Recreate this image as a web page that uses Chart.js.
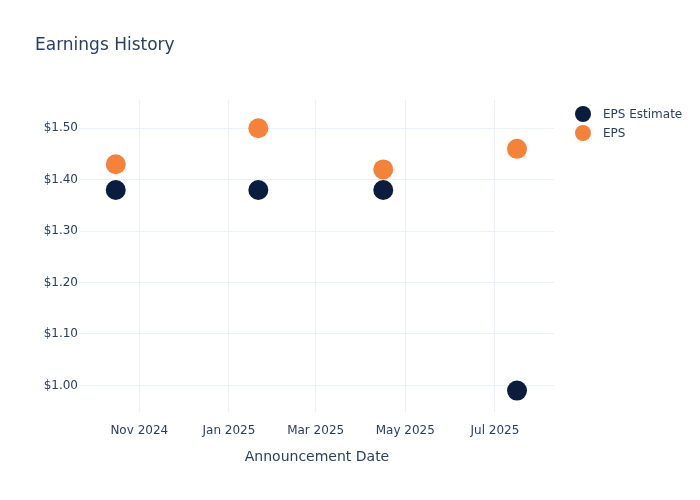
<!DOCTYPE html>
<html>
<head>
<meta charset="utf-8">
<script src="https://cdn.jsdelivr.net/npm/chart.js@4/dist/chart.umd.min.js"></script>
<style>
html,body{margin:0;padding:0;background:#fff;}
#wrap{width:700px;height:500px;position:relative;}
</style>
</head>
<body>
<div id="wrap"><canvas id="c" width="700" height="500"></canvas></div>
<script>
// ---- data ----
const announceDates = ["2024-10-16", "2025-01-21", "2025-04-16", "2025-07-16"];
const epsEstimate = [1.38, 1.38, 1.38, 0.99];
const epsActual = [1.43, 1.50, 1.42, 1.46];
const xTickDates = ["2024-11-01", "2025-01-01", "2025-03-01", "2025-05-01", "2025-07-01"];
const xTickLabels = ["Nov 2024", "Jan 2025", "Mar 2025", "May 2025", "Jul 2025"];
const yTickValues = [1.0, 1.1, 1.2, 1.3, 1.4, 1.5];
const seriesNames = ["EPS Estimate", "EPS"];
const seriesColors = ["#0b1d3f", "#f68138"];
const xRange = ["2024-09-21T16:00", "2025-08-10T04:00"];
const yRange = [0.9483, 1.555];

const ts = d => Date.parse(d.length > 10 ? d + ":00Z" : d + "T00:00:00Z");
const FONT = '"DejaVu Sans", verdana, arial, sans-serif';
const TXT = "#2a3f5f";
const GRID = "#ebf0f8";

const overlay = {
  id: "overlay",
  afterDraw(chart) {
    const ctx = chart.ctx;
    ctx.save();
    ctx.fillStyle = TXT;
    ctx.font = "17px " + FONT;
    ctx.textBaseline = "alphabetic";
    ctx.textAlign = "left";
    ctx.fillText("Earnings History", 35, 50);
    ctx.font = "12px " + FONT;
    ctx.textBaseline = "middle";
    seriesNames.forEach((n, i) => {
      const y = 114 + i * 19;
      ctx.beginPath();
      ctx.arc(583, y, 8, 0, Math.PI * 2);
      ctx.fillStyle = seriesColors[i];
      ctx.fill();
      ctx.fillStyle = TXT;
      ctx.fillText(n, 603, y + 1);
    });
    ctx.restore();
  }
};

new Chart(document.getElementById("c"), {
  type: "scatter",
  data: {
    datasets: [
      {
        label: seriesNames[0],
        data: announceDates.map((d, i) => ({x: ts(d), y: epsEstimate[i]})),
        backgroundColor: seriesColors[0],
        borderColor: seriesColors[0],
        pointRadius: 10,
        pointHoverRadius: 10,
        borderWidth: 0
      },
      {
        label: seriesNames[1],
        data: announceDates.map((d, i) => ({x: ts(d), y: epsActual[i]})),
        backgroundColor: seriesColors[1],
        borderColor: seriesColors[1],
        pointRadius: 10,
        pointHoverRadius: 10,
        borderWidth: 0
      }
    ]
  },
  options: {
    responsive: false,
    animation: false,
    layout: {padding: {left: 0, top: 100, right: 146, bottom: 0}},
    plugins: {legend: {display: false}, title: {display: false}, tooltip: {enabled: false}},
    scales: {
      x: {
        type: "linear",
        min: ts(xRange[0]),
        max: ts(xRange[1]),
        afterBuildTicks(scale) { scale.ticks = xTickDates.map(d => ({value: ts(d)})); },
        afterFit(scale) { scale.height = 88; },
        grid: {color: GRID, drawTicks: false, lineWidth: 1},
        border: {display: false},
        ticks: {
          padding: 12,
          color: TXT,
          font: {family: FONT, size: 12},
          maxRotation: 0,
          autoSkip: false,
          callback(v) { const i = xTickDates.findIndex(d => ts(d) === v); return i >= 0 ? xTickLabels[i] : ""; }
        },
        title: {
          display: true,
          text: "Announcement Date",
          color: TXT,
          font: {family: FONT, size: 14},
          padding: {top: 0, bottom: 34}
        }
      },
      y: {
        type: "linear",
        min: yRange[0],
        max: yRange[1],
        afterBuildTicks(scale) { scale.ticks = yTickValues.map(v => ({value: v})); },
        afterFit(scale) { scale.width = 80; },
        grid: {color: GRID, drawTicks: false, lineWidth: 1},
        border: {display: false},
        ticks: {
          padding: 2,
          color: TXT,
          font: {family: FONT, size: 12},
          callback(v) { return "$" + Number(v).toFixed(2); }
        }
      }
    }
  },
  plugins: [overlay]
});
</script>
</body>
</html>
